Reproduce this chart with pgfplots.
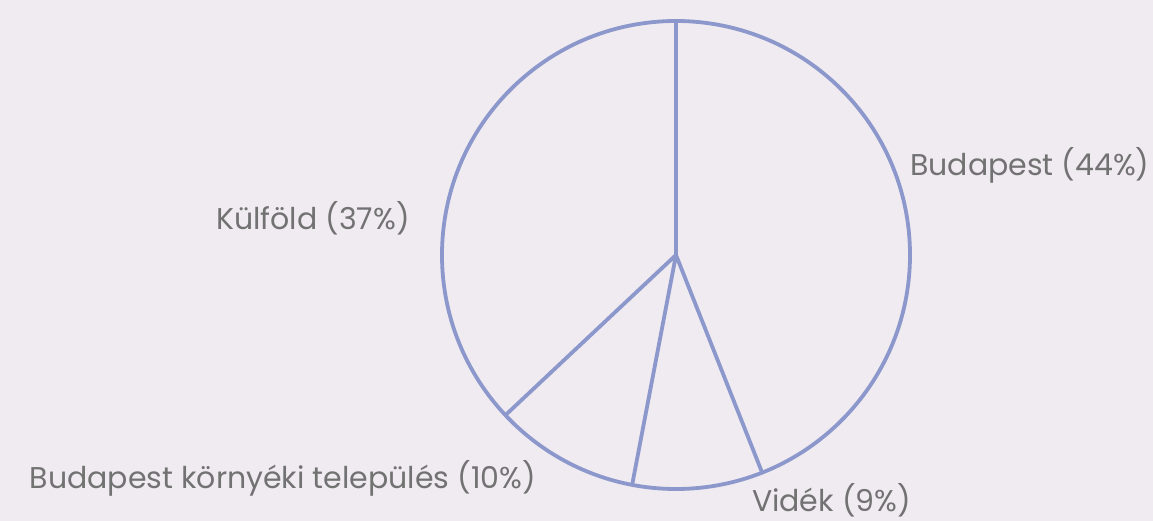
\documentclass[border=0pt]{standalone}
\usepackage{pgfplots}
\pgfplotsset{compat=1.18}
\usepgfplotslibrary{polar}
\usepackage{fontspec}
\setmainfont{Poppins}
\definecolor{bg}{HTML}{EFEBF0}
\definecolor{piecol}{HTML}{8C98CC}
\definecolor{txt}{HTML}{727272}
\tikzset{lbl/.style={font=\fontsize{30}{36}\selectfont, text=txt, inner sep=0pt}}
\begin{document}
\begin{tikzpicture}
\fill[bg] (0,0) rectangle (1153pt,521pt);
\useasboundingbox (0,0) rectangle (1153pt,521pt);
\begin{polaraxis}[
  at={(676pt,266pt)}, anchor=origin,
  width=468pt, height=468pt, scale only axis,
  ymin=0, ymax=1,
  xtick=\empty, ytick=\empty,
  separate axis lines,
  x axis line style={draw=piecol, line width=3.8pt},
  y axis line style={draw=none},
  clip=false,
]
\addplot[draw=piecol, line width=3.8pt, line join=round, no marks]
  table[x expr={90-3.6*\thisrow{cum}}, y=r] {
cum r
0 1
0 0
44 1
44 0
53 1
53 0
63 1
};
\node[lbl, anchor=west] at (axis cs:21.0,1.071) {Budapest (44\%)};
\node[lbl, anchor=east] at (axis cs:172.1,1.148) {Külföld (37\%)};
\node[lbl, anchor=east] at (axis cs:-122.1,1.125) {Budapest környéki település (10\%)};
\node[lbl, anchor=west] at (axis cs:-72.8,1.096) {Vidék (9\%)};
\end{polaraxis}
\end{tikzpicture}
\end{document}
